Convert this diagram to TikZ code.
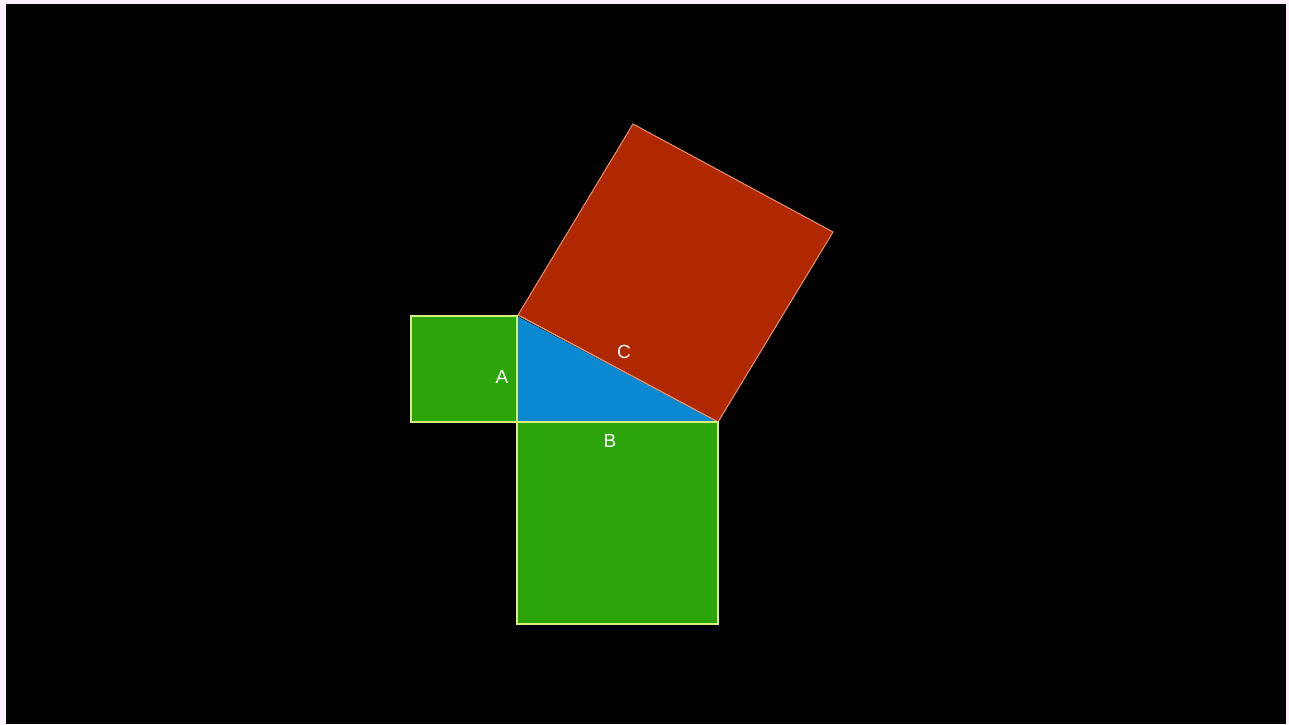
\documentclass[tikz,border=0pt]{standalone}
\usepackage{fontspec}
\setmainfont{Liberation Sans}
\definecolor{frame}{HTML}{FCEEFC}
\definecolor{sqgreen}{HTML}{2CA50A}
\definecolor{sqedge}{HTML}{D4F07C}
\definecolor{tri}{HTML}{0A88D0}
\definecolor{sqred}{HTML}{B02800}
\definecolor{rededge}{HTML}{E8906A}
\begin{document}
\begin{tikzpicture}[x=1pt,y=-1pt,
  greensq/.style={fill=sqgreen,draw=sqedge,line width=2pt},
  lbl/.style={text=white,font=\fontsize{19}{19}\selectfont,inner sep=0pt}]
\fill[frame] (0,0) rectangle (1289,724);
\fill[black] (6,4) rectangle (1286,724);
\useasboundingbox (0,0) rectangle (1289,724);
% hypotenuse square
\filldraw[fill=sqred,draw=rededge,line width=1pt] (518,315) -- (633,124) -- (833,232) -- (718,422) -- cycle;
% triangle
\fill[tri] (517,316) -- (517,422) -- (718,422) -- cycle;
\draw[rededge,line width=1pt] (518,315) -- (718,422);
% squares
\draw[greensq] (411,316) rectangle (517,422);
\draw[greensq] (517,422) rectangle (718,624);
\node[lbl] (A) at (502,377) {A};
\node[lbl] (B) at (610,441) {B};
\node[lbl] (C) at (624,352) {C};
\end{tikzpicture}
\end{document}
